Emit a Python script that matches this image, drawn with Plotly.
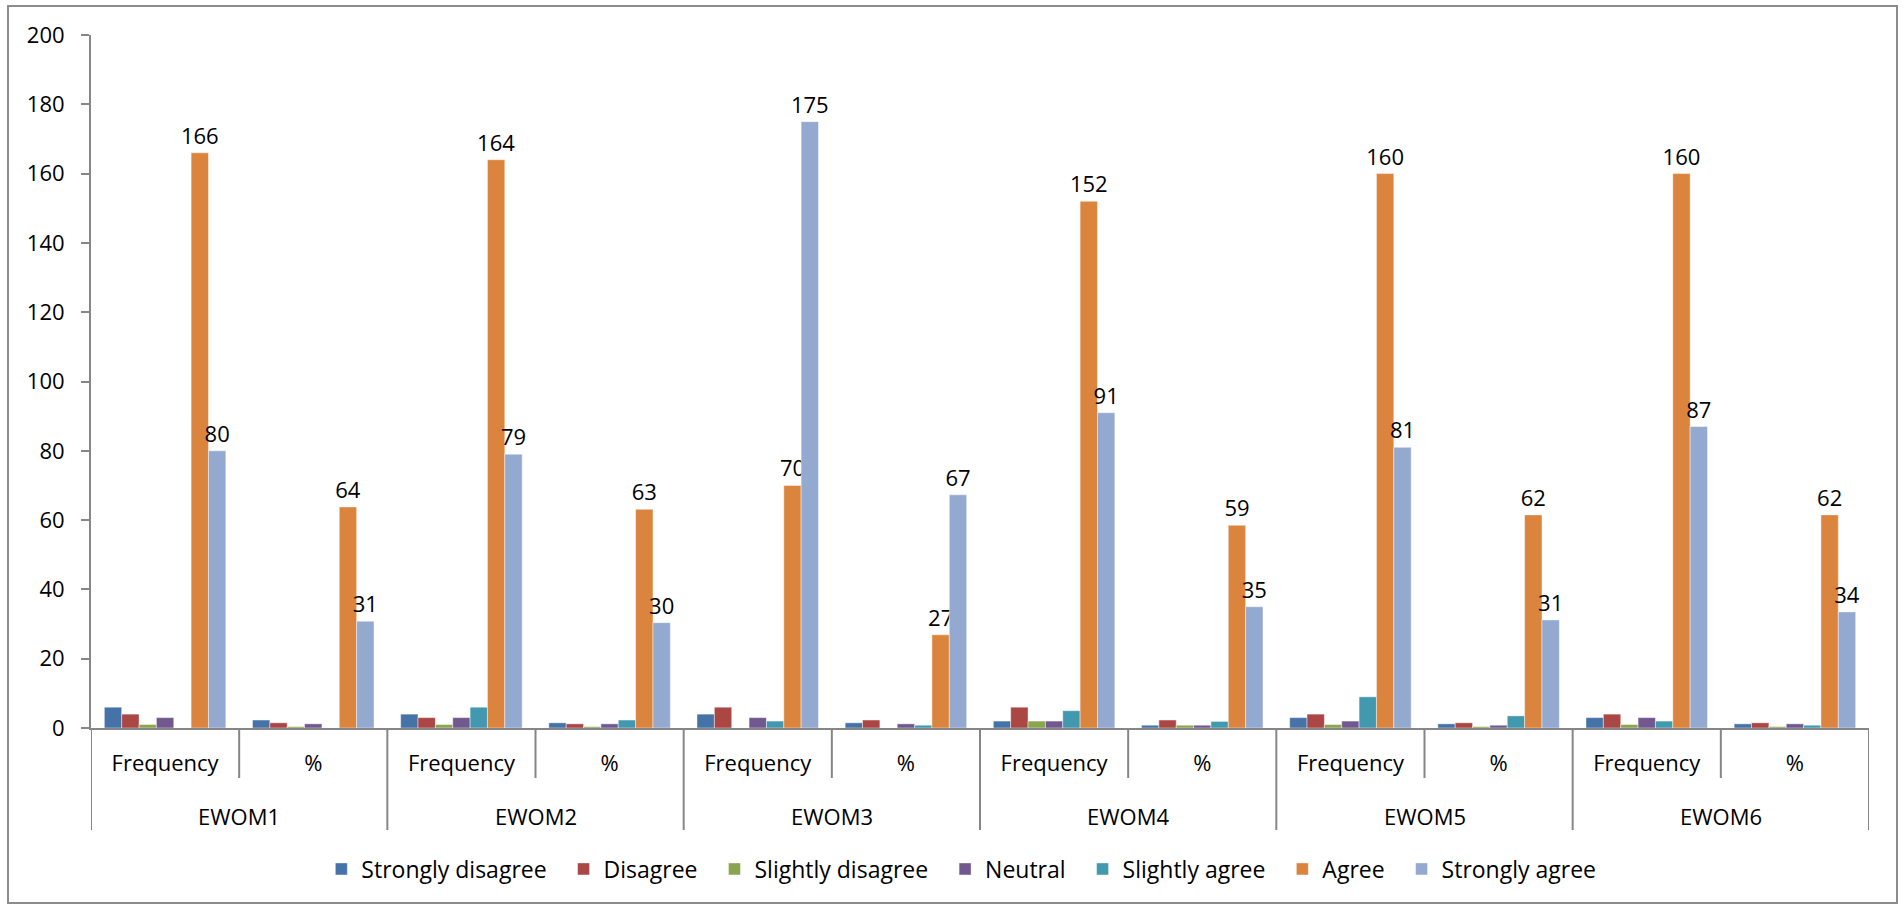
import plotly.graph_objects as go

groups = ["EWOM1", "EWOM2", "EWOM3", "EWOM4", "EWOM5", "EWOM6"]
measures = ["Frequency", "%"]

series_names = ["Strongly disagree", "Disagree", "Slightly disagree", "Neutral",
                "Slightly agree", "Agree", "Strongly agree"]
colors = ["#4572A7", "#AA4643", "#89A54E", "#71588F", "#4198AF", "#DB843D", "#93A9CF"]

# values per category: EWOM1 Freq, EWOM1 %, EWOM2 Freq, EWOM2 %, ...
strongly_disagree = [6, 2.3, 4, 1.5, 4, 1.5, 2, 0.8, 3, 1.2, 3, 1.2]
disagree = [4, 1.5, 3, 1.2, 6, 2.3, 6, 2.3, 4, 1.5, 4, 1.5]
slightly_disagree = [1, 0.4, 1, 0.4, 0, 0, 2, 0.8, 1, 0.4, 1, 0.4]
neutral = [3, 1.2, 3, 1.2, 3, 1.2, 2, 0.8, 2, 0.8, 3, 1.2]
slightly_agree = [0, 0, 6, 2.3, 2, 0.8, 5, 1.9, 9, 3.5, 2, 0.8]
agree = [166, 63.8, 164, 63.1, 70, 26.9, 152, 58.5, 160, 61.5, 160, 61.5]
strongly_agree = [80, 30.8, 79, 30.4, 175, 67.3, 91, 35.0, 81, 31.2, 87, 33.5]

series_values = [strongly_disagree, disagree, slightly_disagree, neutral,
                 slightly_agree, agree, strongly_agree]
labelled = {"Agree", "Strongly agree"}

inner = [m for _ in groups for m in measures]
positions = list(range(len(inner)))

FONT = "Open Sans, Noto Sans, DejaVu Sans, sans-serif"
AXIS_COLOR = "#868686"

fig = go.Figure()
for i, (name, vals, col) in enumerate(zip(series_names, series_values, colors)):
    show_text = name in labelled
    pad = "\u00a0\u00a0" if i < len(series_names) - 1 else ""
    fig.add_trace(go.Bar(
        name=name + pad,
        x=positions,
        y=vals,
        marker=dict(color=col, line=dict(color="rgba(255,255,255,0.55)", width=0.8)),
        texttemplate="%{y:.0f}" if show_text else None,
        textposition="outside" if show_text else "none",
        textfont=dict(family=FONT, size=22, color="#000000"),
        constraintext="none",
        cliponaxis=False,
        hovertemplate=name + ": %{y}<extra></extra>",
    ))

L, R, T, B = 91, 34, 35, 177
W, H = 1903, 905
pw, ph = W - L - R, H - T - B
AX_Y = H - B  # pixel row of the x axis

def py(pix):
    """pixel row -> paper y"""
    return (AX_Y - pix) / ph

n = len(inner)
fig.update_layout(
    width=W, height=H,
    margin=dict(l=L, r=R, t=T, b=B, pad=0),
    barmode="group",
    bargap=0.18,
    bargroupgap=0,
    plot_bgcolor="white",
    paper_bgcolor="white",
    font=dict(family=FONT, size=22, color="#000000"),
    showlegend=True,
    legend=dict(
        orientation="h",
        x=0.4895, xanchor="center",
        y=py(869), yanchor="middle",
        font=dict(family=FONT, size=23, color="#000000"),
        traceorder="normal",
        bgcolor="rgba(0,0,0,0)",
    ),
    xaxis=dict(
        type="linear",
        range=[-0.5, n - 0.5],
        tickvals=positions, ticktext=inner,
        showline=True, linecolor=AXIS_COLOR, linewidth=2,
        ticks="",
        ticklabelstandoff=15,
        showgrid=False, zeroline=False,
        tickfont=dict(family=FONT, size=22, color="#000000"),
    ),
    yaxis=dict(
        range=[0, 200], dtick=20,
        showline=True, linecolor=AXIS_COLOR, linewidth=2,
        ticks="outside", ticklen=8, tickcolor=AXIS_COLOR, tickwidth=2,
        ticklabelstandoff=12,
        showgrid=False, zeroline=False,
        tickfont=dict(family=FONT, size=22, color="#000000"),
    ),
)

# boundary lines of the two-level category axis
for b in range(n + 1):
    xb = b - 0.5
    is_group_edge = (b % len(measures) == 0)
    fig.add_shape(
        type="line", xref="x", yref="paper",
        x0=xb, x1=xb, y0=0, y1=py(830 if is_group_edge else 778),
        line=dict(color=AXIS_COLOR, width=2),
    )

# outer category labels
for gi, g in enumerate(groups):
    center = gi * len(measures) + (len(measures) - 1) / 2
    fig.add_annotation(
        x=center, xref="x", y=py(816), yref="paper",
        text=g, showarrow=False, yanchor="middle",
        font=dict(family=FONT, size=22, color="#000000"),
    )

# outer chart border
fig.add_shape(
    type="rect", xref="paper", yref="paper",
    x0=(8 - L) / pw, x1=(1897 - L) / pw,
    y0=py(903), y1=py(6),
    line=dict(color="#8C8C8C", width=2), fillcolor="rgba(0,0,0,0)", layer="below",
)

fig.write_html("out.html")
